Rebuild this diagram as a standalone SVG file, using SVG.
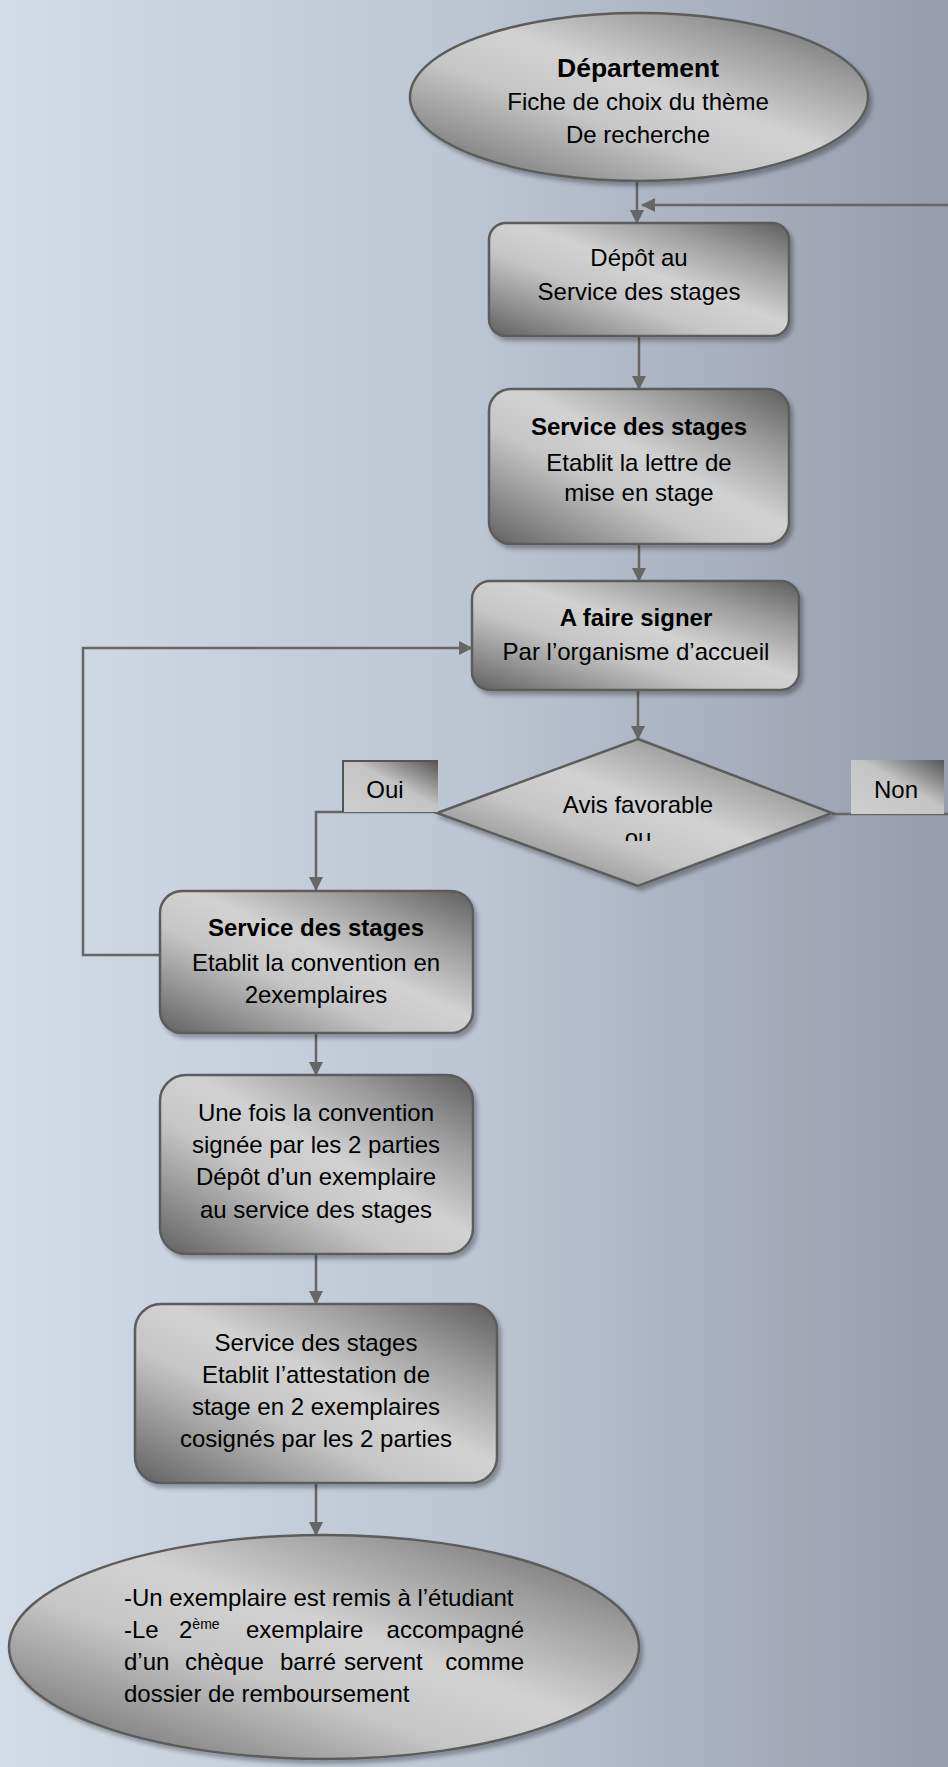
<svg xmlns="http://www.w3.org/2000/svg" width="948" height="1767" viewBox="0 0 948 1767">
<defs>
<linearGradient id="bg" x1="0" y1="0" x2="1" y2="0">
<stop offset="0" stop-color="#d1dce7"/>
<stop offset="0.5" stop-color="#bcc6d3"/>
<stop offset="1" stop-color="#959cab"/>
</linearGradient>
<linearGradient id="metal" x1="1" y1="0" x2="0" y2="1">
<stop offset="0" stop-color="#5e5e5e"/>
<stop offset="0.22" stop-color="#9c9c9c"/>
<stop offset="0.45" stop-color="#d2d2d2"/>
<stop offset="0.62" stop-color="#c6c6c6"/>
<stop offset="0.8" stop-color="#979797"/>
<stop offset="1" stop-color="#606060"/>
</linearGradient>
<linearGradient id="tag" x1="0" y1="1" x2="1" y2="0">
<stop offset="0" stop-color="#cfcfcf"/>
<stop offset="0.55" stop-color="#c4c4c4"/>
<stop offset="1" stop-color="#555555"/>
</linearGradient>
<filter id="sh" x="-10%" y="-10%" width="125%" height="130%">
<feDropShadow dx="3" dy="4" stdDeviation="2" flood-color="#000" flood-opacity="0.3"/>
</filter>
<marker id="arr" markerWidth="14" markerHeight="14" refX="13" refY="7" orient="auto" markerUnits="userSpaceOnUse">
<path d="M0,0 L14,7 L0,14 Z" fill="#666"/>
</marker>
<clipPath id="diamclip"><rect x="540" y="790" width="200" height="51"/></clipPath>
<style>
.shape{fill:url(#metal);stroke:#5c5c5c;stroke-width:2.5;filter:url(#sh)}
.conn{fill:none;stroke:#666;stroke-width:2.5}
.t{font-family:"Liberation Sans",Arial,sans-serif;font-size:24px;fill:#000;text-anchor:middle}
.b{font-weight:bold}
.l{text-anchor:start}
</style>
</defs>
<rect x="0" y="0" width="948" height="1767" fill="url(#bg)"/>

<g id="connectors">
<path class="conn" d="M637,182 V223" marker-end="url(#arr)"/>
<path class="conn" d="M948,205 H642" marker-end="url(#arr)"/>
<path class="conn" d="M639,337 V389" marker-end="url(#arr)"/>
<path class="conn" d="M639,544 V581" marker-end="url(#arr)"/>
<path class="conn" d="M638,690 V739" marker-end="url(#arr)"/>
<path class="conn" d="M437,812 H316 V890" marker-end="url(#arr)"/>
<path class="conn" d="M832,814 H948"/>
<path class="conn" d="M160,955 H83 V648 H472" marker-end="url(#arr)"/>
<path class="conn" d="M316,1033 V1075" marker-end="url(#arr)"/>
<path class="conn" d="M316,1254 V1304" marker-end="url(#arr)"/>
<path class="conn" d="M316,1483 V1535" marker-end="url(#arr)"/>
</g>

<g id="departement">
<ellipse class="shape" cx="639" cy="97" rx="229" ry="84"/>
<text class="t b" x="638" y="77" style="font-size:26.5px">Département</text>
<text class="t" x="638" y="110">Fiche de choix du thème</text>
<text class="t" x="638" y="143">De recherche</text>
</g>

<g id="depot">
<rect class="shape" x="489" y="223" width="300" height="113" rx="17"/>
<text class="t" x="639" y="266">Dépôt au</text>
<text class="t" x="639" y="300">Service des stages</text>
</g>

<g id="lettre">
<rect class="shape" x="489" y="389" width="300" height="155" rx="22"/>
<text class="t b" x="639" y="435">Service des stages</text>
<text class="t" x="639" y="471">Etablit la lettre de</text>
<text class="t" x="639" y="501">mise en stage</text>
</g>

<g id="signer">
<rect class="shape" x="472" y="581" width="327" height="109" rx="18"/>
<text class="t b" x="636" y="626">A faire signer</text>
<text class="t" x="636" y="660">Par l’organisme d’accueil</text>
</g>

<g id="avis">
<polygon class="shape" points="638,739 832,813 638,886 437,813"/>
<text class="t" x="638" y="813">Avis favorable</text>
<text class="t" x="638" y="846" clip-path="url(#diamclip)">ou</text>
</g>

<g id="oui">
<rect x="343" y="761" width="95" height="51" fill="url(#tag)"/>
<path d="M343,812 V761 H438" fill="none" stroke="#555" stroke-width="2"/>
<text class="t" x="385" y="798">Oui</text>
</g>

<g id="non">
<rect x="851" y="760" width="93" height="54" fill="url(#tag)"/>
<text class="t" x="896" y="798">Non</text>
</g>

<g id="convention">
<rect class="shape" x="160" y="891" width="313" height="142" rx="22"/>
<text class="t b" x="316" y="936">Service des stages</text>
<text class="t" x="316" y="971">Etablit la convention en</text>
<text class="t" x="316" y="1003">2exemplaires</text>
</g>

<g id="signee">
<rect class="shape" x="160" y="1075" width="313" height="179" rx="26"/>
<text class="t" x="316" y="1121">Une fois la convention</text>
<text class="t" x="316" y="1153">signée par les 2 parties</text>
<text class="t" x="316" y="1185">Dépôt d’un exemplaire</text>
<text class="t" x="316" y="1218">au service des stages</text>
</g>

<g id="attestation">
<rect class="shape" x="135" y="1304" width="362" height="179" rx="26"/>
<text class="t" x="316" y="1351">Service des stages</text>
<text class="t" x="316" y="1383">Etablit l’attestation de</text>
<text class="t" x="316" y="1415">stage en 2 exemplaires</text>
<text class="t" x="316" y="1447">cosignés par les 2 parties</text>
</g>

<g id="remboursement">
<ellipse class="shape" cx="324" cy="1647" rx="315" ry="112"/>
<text class="t l" x="124" y="1606">-Un exemplaire est remis à l’étudiant</text>
<text class="t l" y="1638"><tspan x="124">-Le</tspan><tspan x="179">2</tspan><tspan dy="-9" style="font-size:14px">ème</tspan><tspan dy="9" x="246">exemplaire</tspan></text>
<text class="t" x="524" y="1638" style="text-anchor:end">accompagné</text>
<text class="t l" y="1670"><tspan x="124">d’un</tspan><tspan x="185">chèque</tspan><tspan x="280">barré</tspan><tspan x="344">servent</tspan></text>
<text class="t" x="524" y="1670" style="text-anchor:end">comme</text>
<text class="t l" x="124" y="1702">dossier de remboursement</text>
</g>
</svg>
